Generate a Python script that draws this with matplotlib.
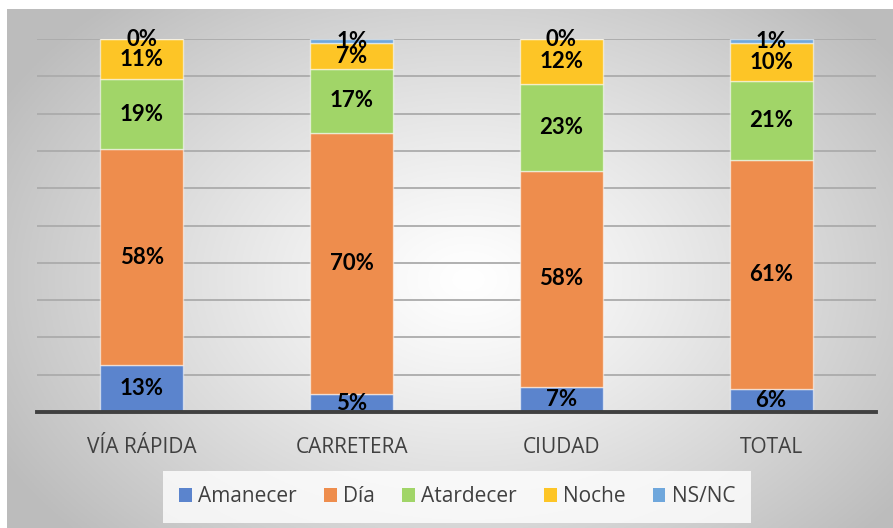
import numpy as np
import matplotlib
matplotlib.use("Agg")
import matplotlib.pyplot as plt
from matplotlib.patches import Patch

categories = ["VÍA RÁPIDA", "CARRETERA", "CIUDAD", "TOTAL"]
series_names = ["Amanecer", "Día", "Atardecer", "Noche", "NS/NC"]
amanecer = [12.7, 4.8, 6.8, 6.2]
dia = [57.7, 70.1, 57.9, 61.4]
atardecer = [18.8, 17.0, 23.2, 21.2]
noche = [10.8, 6.9, 12.1, 10.0]
nsnc = [0.0, 1.2, 0.0, 1.2]
colors = ["#5B84CD", "#EE8D4D", "#A1D568", "#FDC526", "#6FA7DC"]

W, H = 893, 528
fig = plt.figure(figsize=(W / 100, H / 100), dpi=100)
fig.patch.set_facecolor("white")

# gradient background for the chart area
bg = fig.add_axes([7 / W, 0, 1 - 7 / W, (H - 9) / H])
bg.set_axis_off()
ny, nx = 300, 500
yy, xx = np.mgrid[0:ny, 0:nx]
cx, cy = 0.52 * nx, 0.52 * ny
d = np.sqrt(((xx - cx) / (0.6 * nx)) ** 2 + ((yy - cy) / (0.72 * ny)) ** 2)
d = np.clip(d, 0, 1)
v = 1.0 - 0.26 * d ** 1.2
img = np.dstack([v, v, v])
bg.imshow(img, aspect="auto", extent=[0, 1, 0, 1], origin="upper")
bg.set_xlim(0, 1)
bg.set_ylim(0, 1)

ax = fig.add_axes([37 / W, (H - 412) / H, (876 - 37) / W, (412 - 39) / H])
ax.set_facecolor("none")

data = [amanecer, dia, atardecer, noche, nsnc]
x = np.arange(len(categories))
bottom = np.zeros(len(categories))
for name, vals, col in zip(series_names, data, colors):
    vals = np.array(vals)
    ax.bar(x, vals, width=0.395, bottom=bottom, color=col,
           edgecolor=(1, 1, 1, 0.55), linewidth=1.0, zorder=3, label=name)
    for xi, b, vv in zip(x, bottom, vals):
        ax.text(xi, b + vv / 2, f"{round(vv):d}%", ha="center", va="center",
                fontsize=16, fontweight="bold", family="Lato", color="black",
                zorder=5)
    bottom += vals

ax.set_xlim(-0.5, 3.5)
ax.set_ylim(0, 100)
ax.set_yticks(np.arange(0, 101, 10))
ax.set_yticklabels([])
ax.tick_params(axis="y", length=0)
ax.grid(axis="y", color="#ABABAB", linewidth=1.3, zorder=0)
ax.set_axisbelow(True)
for s in ["top", "right", "left"]:
    ax.spines[s].set_visible(False)
ax.spines["bottom"].set_color("#404040")
ax.spines["bottom"].set_linewidth(2.8)
ax.spines["bottom"].set_zorder(4)
ax.set_xticks(x)
ax.set_xticklabels(categories, fontsize=15, family="Open Sans", color="#404040")
ax.tick_params(axis="x", length=0, pad=18)

handles = [Patch(facecolor=c, edgecolor="none") for c in colors]
leg = fig.legend(handles, series_names, loc="center", ncol=5,
                 bbox_to_anchor=(457 / W, 1 - 497 / H),
                 prop={"family": "Open Sans", "size": 15},
                 frameon=True, fancybox=False, handlelength=0.62, handleheight=0.62,
                 handletextpad=0.3, columnspacing=1.3, borderpad=0.75)
leg.get_frame().set_facecolor((1, 1, 1, 0.4))
leg.get_frame().set_edgecolor("none")
for t in leg.get_texts():
    t.set_color("#404040")

fig.savefig("out.png", dpi=100)
